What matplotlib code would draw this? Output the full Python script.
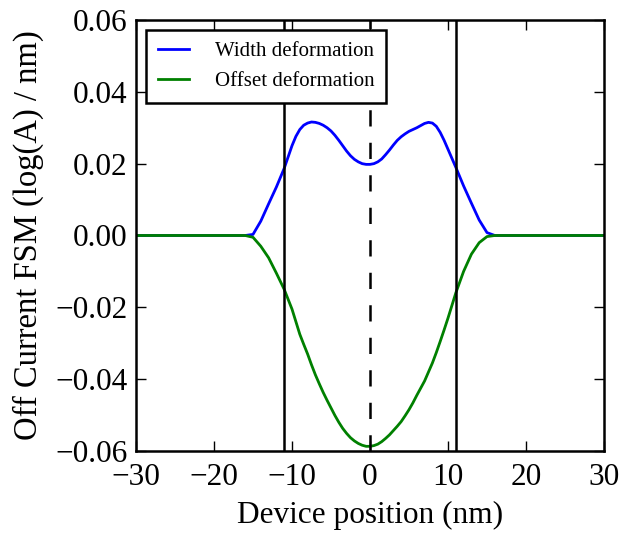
import numpy as np
import matplotlib
matplotlib.use('Agg')
import matplotlib.pyplot as plt

# values
pos = [-30, -16, -15, -14, -13, -12, -11, -10, -9.5, -9, -8.5, -8, -7.5, -7, -6.5, -6,
       -5.5, -5, -4.5, -4, -3.5, -3, -2.5, -2, -1.5, -1, -0.5, 0, 0.5, 1, 1.5, 2, 2.5,
       3, 3.5, 4, 4.5, 5, 5.5, 6, 6.5, 7, 7.5, 8, 8.5, 9, 9.5, 10,
       11, 12, 13, 14, 15, 16, 30]
width_fsm = [0, 0, 0.0003, 0.0040, 0.0088, 0.0135, 0.0187, 0.0250, 0.0276, 0.0295,
             0.0307, 0.0313, 0.0316, 0.0315, 0.0312, 0.0307,
             0.0300, 0.0291, 0.0279, 0.0265, 0.0250, 0.0235, 0.0222, 0.0212, 0.0205,
             0.0200, 0.0198, 0.0198, 0.0200, 0.0205, 0.0213, 0.0225, 0.0238,
             0.0252, 0.0265, 0.0275, 0.0283, 0.0290, 0.0295, 0.0300, 0.0306, 0.0312,
             0.0315, 0.0313, 0.0304, 0.0287, 0.0265, 0.0240,
             0.0190, 0.0138, 0.0090, 0.0043, 0.0008, 0, 0]
offset_fsm = [0, 0, -0.0005, -0.0030, -0.0062, -0.0105, -0.0150, -0.0205, -0.0240, -0.0275,
              -0.0303, -0.0330, -0.0360, -0.0388, -0.0413, -0.0437,
              -0.0459, -0.0480, -0.0501, -0.0520, -0.0537, -0.0551, -0.0563, -0.0572, -0.0579,
              -0.0584, -0.0587, -0.0587, -0.0585, -0.0581, -0.0574, -0.0565, -0.0555,
              -0.0543, -0.0531, -0.0518, -0.0502, -0.0485, -0.0466, -0.0445, -0.0425, -0.0405,
              -0.0380, -0.0355, -0.0326, -0.0295, -0.0263, -0.0230,
              -0.0160, -0.0100, -0.0052, -0.0020, -0.0003, 0, 0]
gate_edges = [-11, 11]
center = 0

plt.rcParams['font.family'] = ['Liberation Serif', 'DejaVu Serif']
plt.rcParams['xtick.direction'] = 'in'
plt.rcParams['ytick.direction'] = 'in'
plt.rcParams['xtick.top'] = True
plt.rcParams['ytick.right'] = True
plt.rcParams['xtick.major.size'] = 7
plt.rcParams['ytick.major.size'] = 7
plt.rcParams['xtick.major.width'] = 1
plt.rcParams['ytick.major.width'] = 1
plt.rcParams['xtick.major.pad'] = 9
plt.rcParams['ytick.major.pad'] = 6

fig = plt.figure(figsize=(6.23, 5.36), dpi=100)
ax = fig.add_axes([0.2183, 0.1586, 0.7512, 0.8041])

ax.plot(pos, width_fsm, color='blue', lw=2, label='Width deformation')
ax.plot(pos, offset_fsm, color='green', lw=2, label='Offset deformation')
for xe in gate_edges:
    ax.axvline(xe, color='black', lw=1.8)
ax.axvline(center, color='black', lw=1.8, linestyle=(0, (6.5, 6.5)))

ax.set_xlim(-30, 30)
ax.set_ylim(-0.06, 0.06)
ax.set_xticks(np.arange(-30, 31, 10))
ax.set_yticks(np.arange(-0.06, 0.061, 0.02))
ax.yaxis.set_major_formatter(matplotlib.ticker.FuncFormatter(
    lambda v, p: ('%.2f' % v).replace('-', '\u2212')))
ax.tick_params(labelsize=22.5)
for s in ax.spines.values():
    s.set_linewidth(1.8)

ax.set_xlabel('Device position (nm)', fontsize=22.5, labelpad=6)
ax.set_ylabel('Off Current FSM (log(A) / nm)', fontsize=23.5, labelpad=8)

leg = ax.legend(loc='upper left', fontsize=15, handlelength=1.5, handletextpad=1.25,
                fancybox=False, borderaxespad=0.5, borderpad=0.55, framealpha=1)
leg.get_frame().set_edgecolor('black')
leg.get_frame().set_linewidth(1.8)

fig.savefig('out.png', dpi=100, facecolor='white')
